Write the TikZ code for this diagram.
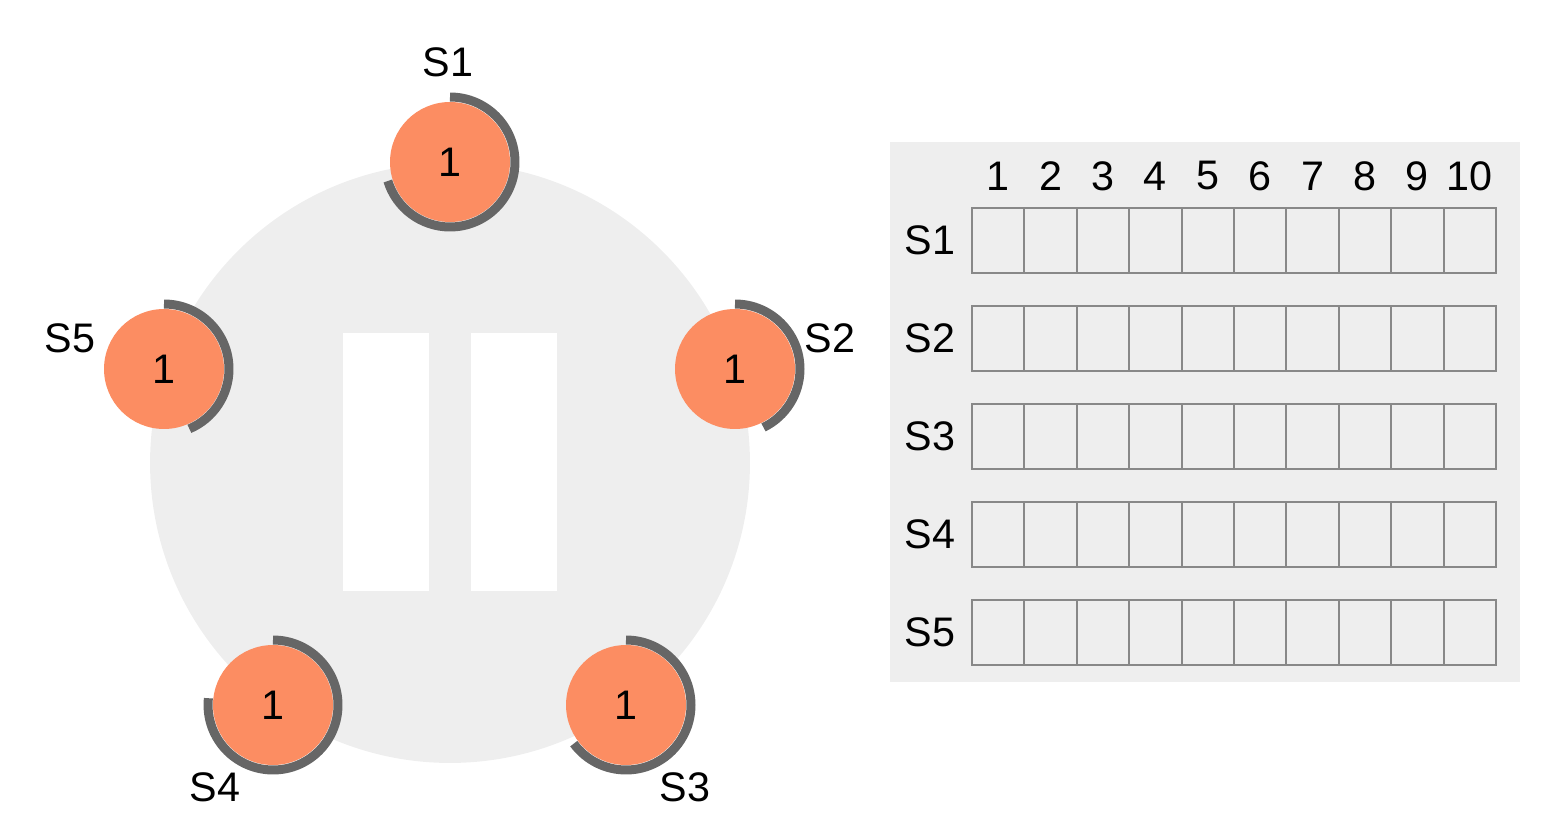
\documentclass[tikz,border=0pt]{standalone}
\usepackage{fontspec}
\setmainfont{Liberation Sans}
\definecolor{bggray}{HTML}{EEEEEE}
\definecolor{srvorange}{HTML}{FC8D62}
\definecolor{ringgray}{HTML}{666666}
\definecolor{cellgray}{HTML}{888888}
\tikzset{
  server/.style={circle, fill=srvorange, minimum size=2.4cm, inner sep=0pt},
  ring/.style={draw=ringgray, line width=0.18cm},
  lbl/.style={inner sep=0pt, font=\fontsize{23.5}{28}\selectfont},
  cell/.style={draw=cellgray, line width=0.04cm, minimum width=1.048cm, minimum height=1.3cm, inner sep=0pt}
}
\begin{document}
\begin{tikzpicture}[x=0.02cm, y=0.02cm]
\useasboundingbox (0,0) rectangle (1550,822);

% ring of servers
\fill[bggray] (450,359) circle[radius=6cm];
\fill[white] (343,231) rectangle (429,489);
\fill[white] (471,231) rectangle (557,489);

\node[server, lbl] (s1) at (450,660) {1};
\node[server, lbl] (s2) at (735,453) {1};
\node[server, lbl] (s3) at (626,117) {1};
\node[server, lbl] (s4) at (273,117) {1};
\node[server, lbl] (s5) at (164,453) {1};

\draw[ring] ([shift={(90:1.3cm)}]s1.center) arc[start angle=90, end angle=-163, radius=1.3cm];
\draw[ring] ([shift={(90:1.3cm)}]s2.center) arc[start angle=90, end angle=-64, radius=1.3cm];
\draw[ring] ([shift={(90:1.3cm)}]s3.center) arc[start angle=90, end angle=-143.5, radius=1.3cm];
\draw[ring] ([shift={(90:1.3cm)}]s4.center) arc[start angle=90, end angle=-186, radius=1.3cm];
\draw[ring] ([shift={(90:1.3cm)}]s5.center) arc[start angle=90, end angle=-67, radius=1.3cm];

\node[lbl] (n1) at (448,760) {S1};
\node[lbl] (n2) at (830,484) {S2};
\node[lbl] (n3) at (685,35) {S3};
\node[lbl] (n4) at (215,35) {S4};
\node[lbl] (n5) at (70,484) {S5};

% log table
\fill[bggray] (890,140) rectangle (1520,680);
\foreach \j in {1,...,10}
  \node[lbl] (h\j) at ({972+52.4*(\j-0.5)},646) {\j};
\foreach \i in {1,...,5} {
  \node[lbl] (r\i) at (930,{581.5-98*(\i-1)}) {S\i};
  \foreach \j in {1,...,10}
    \node[cell] (c\i-\j) at ({972+52.4*(\j-0.5)},{581.5-98*(\i-1)}) {};
}
\end{tikzpicture}
\end{document}
